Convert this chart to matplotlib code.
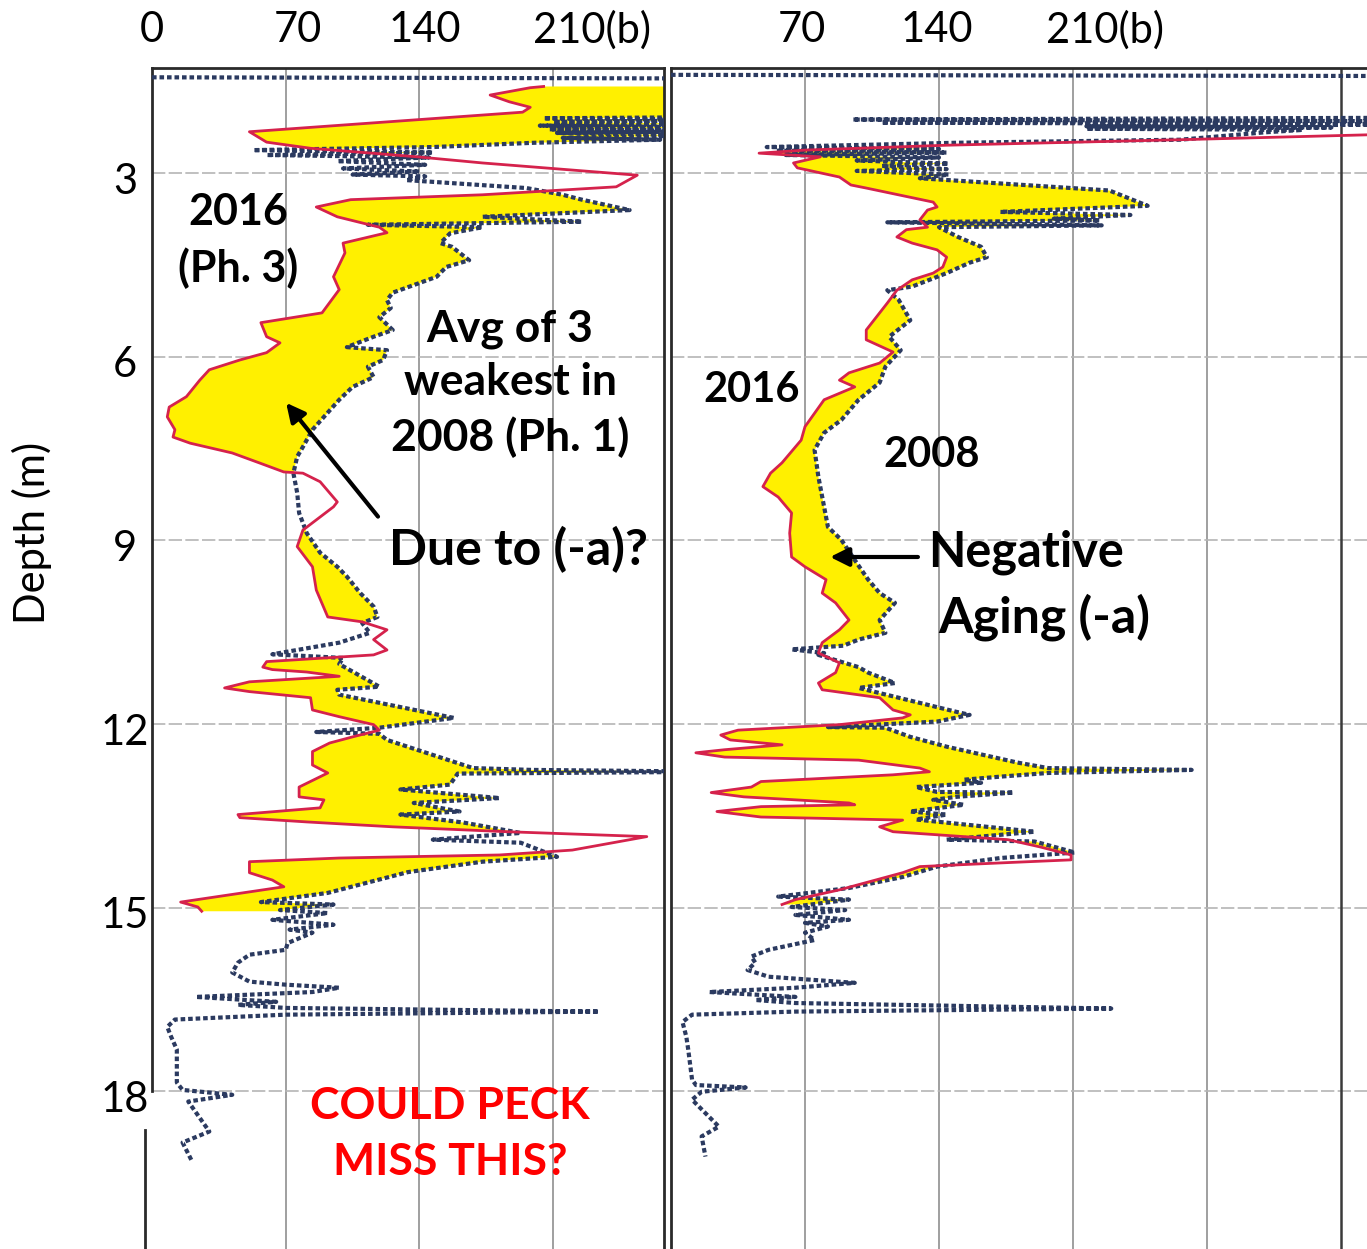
import matplotlib
matplotlib.use("Agg")
import matplotlib.pyplot as plt
from matplotlib.lines import Line2D
from matplotlib.transforms import ScaledTranslation
import numpy as np

plt.rcParams['font.family'] = ['Lato', 'DejaVu Sans']

# CPT soundings: (depth m, cone resistance bar)
left_2016 = [
    (1.58, 205), (1.60, 198), (1.72, 177), (1.83, 187), (1.92, 198), (2.00, 194), (2.32, 51),
    (2.49, 60), (2.59, 83), (2.73, 139), (2.83, 173), (3.03, 254), (3.22, 243), (3.35, 173),
    (3.43, 104), (3.55, 86), (3.71, 97), (3.88, 119), (3.97, 123), (4.14, 100), (4.30, 101),
    (4.69, 95), (4.90, 98), (5.28, 89), (5.44, 57), (5.67, 60), (5.77, 67), (5.93, 60),
    (6.05, 46), (6.21, 30), (6.38, 25), (6.65, 18), (6.82, 9), (6.98, 8), (7.19, 12),
    (7.31, 11), (7.41, 20), (7.57, 42), (7.73, 56), (7.88, 69), (7.90, 79), (8.04, 88),
    (8.37, 97), (8.45, 95), (8.83, 79), (9.10, 76), (9.43, 84), (9.81, 86), (10.25, 92),
    (10.33, 110), (10.46, 123), (10.62, 116), (10.79, 123), (10.87, 116), (10.98, 60),
    (11.07, 58), (11.11, 63), (11.15, 81), (11.22, 98), (11.31, 51), (11.41, 38), (11.47, 51),
    (11.57, 83), (11.77, 84), (11.88, 98), (12.01, 116), (12.10, 119), (12.21, 105),
    (12.31, 93), (12.45, 84), (12.67, 84), (12.80, 92), (13.03, 77), (13.19, 77), (13.24, 90),
    (13.37, 88), (13.48, 45), (13.53, 46), (13.60, 81), (13.68, 126), (13.76, 186),
    (13.84, 259), (14.06, 220), (14.14, 182), (14.19, 98), (14.25, 51), (14.43, 51),
    (14.55, 63), (14.66, 69), (14.91, 15), (14.99, 24), (15.06, 26),
]

left_2008 = [
    (1.43, 0), (1.45, 300), (2.08, 300), (2.10, 205), (2.13, 300), (2.16, 210), (2.19, 300),
    (2.22, 203), (2.25, 300), (2.28, 208), (2.31, 300), (2.34, 212), (2.38, 290), (2.42, 215),
    (2.45, 266), (2.50, 200), (2.57, 147), (2.62, 53), (2.66, 147), (2.70, 60), (2.74, 145),
    (2.80, 97), (2.86, 143), (2.92, 100), (2.97, 140), (3.02, 105), (3.05, 143), (3.11, 133),
    (3.24, 196), (3.35, 215), (3.43, 225), (3.60, 250), (3.71, 173), (3.79, 225), (3.84, 113),
    (3.88, 173), (3.98, 156), (4.14, 151), (4.20, 157), (4.42, 166), (4.53, 154), (4.69, 149),
    (4.95, 126), (5.07, 123), (5.20, 125), (5.35, 119), (5.56, 126), (5.67, 116), (5.84, 102),
    (5.89, 123), (6.05, 121), (6.16, 113), (6.33, 116), (6.49, 105), (6.70, 98), (6.91, 92),
    (7.19, 84), (7.47, 79), (7.63, 76), (7.90, 74), (8.22, 76), (8.55, 77), (8.88, 81),
    (9.20, 88), (9.43, 97), (9.59, 102), (9.86, 109), (10.08, 116), (10.25, 118), (10.35, 110),
    (10.51, 114), (10.67, 98), (10.79, 76), (10.86, 63), (10.92, 100), (11.02, 98),
    (11.39, 119), (11.44, 97), (11.52, 98), (11.90, 158), (12.06, 119), (12.13, 86),
    (12.16, 119), (12.26, 123), (12.72, 168), (12.75, 199), (12.78, 300), (12.81, 160),
    (12.99, 156), (13.07, 130), (13.21, 182), (13.29, 137), (13.43, 161), (13.48, 130),
    (13.61, 163), (13.78, 193), (13.89, 147), (13.94, 193), (14.17, 212), (14.25, 173),
    (14.42, 134), (14.76, 92), (14.91, 57), (14.95, 95), (15.04, 67), (15.09, 92), (15.20, 63),
    (15.28, 95), (15.36, 72), (15.41, 84), (15.58, 71), (15.69, 70), (15.77, 51), (15.90, 45),
    (16.06, 42), (16.21, 51), (16.26, 70), (16.31, 98), (16.38, 84), (16.46, 23), (16.54, 65),
    (16.59, 45), (16.64, 70), (16.70, 234), (16.75, 70), (16.83, 12), (16.95, 8), (17.11, 10),
    (17.32, 13), (17.86, 13), (17.98, 16), (18.06, 42), (18.17, 19), (18.66, 30), (18.84, 16),
    (19.15, 21),
]

right_2016 = [
    (2.25, 420), (2.37, 364), (2.45, 266), (2.54, 144), (2.62, 70), (2.67, 46), (2.73, 78),
    (2.83, 64), (2.91, 66), (3.06, 88), (3.19, 94), (3.24, 102), (3.47, 137), (3.55, 139),
    (3.60, 134), (3.76, 130), (3.88, 134), (3.92, 123), (4.04, 118), (4.14, 126), (4.25, 139),
    (4.37, 144), (4.53, 142), (4.63, 137), (4.74, 126), (4.91, 118), (5.12, 113), (5.28, 109),
    (5.56, 102), (5.72, 102), (5.92, 116), (6.10, 109), (6.26, 93), (6.38, 88), (6.49, 96),
    (6.70, 80), (7.14, 70), (7.36, 68), (7.73, 58), (7.90, 52), (8.12, 48), (8.29, 56),
    (8.55, 63), (8.88, 62), (9.27, 63), (9.43, 70), (9.64, 81), (9.86, 79), (10.02, 86),
    (10.30, 93), (10.46, 88), (10.67, 79), (10.84, 77), (11.00, 88), (11.16, 86), (11.33, 77),
    (11.44, 79), (11.57, 109), (11.77, 116), (11.85, 125), (11.90, 121), (12.01, 88),
    (12.10, 35), (12.18, 26), (12.26, 31), (12.34, 58), (12.42, 28), (12.47, 13), (12.54, 28),
    (12.59, 98), (12.72, 130), (12.78, 135), (12.83, 116), (12.94, 47), (13.03, 42),
    (13.12, 21), (13.19, 38), (13.29, 93), (13.32, 96), (13.35, 47), (13.43, 24), (13.52, 47),
    (13.57, 121), (13.68, 109), (13.76, 116), (13.89, 176), (14.01, 193), (14.14, 209),
    (14.22, 209), (14.27, 172), (14.33, 130), (14.43, 121), (14.71, 88), (14.87, 65),
    (14.95, 58),
]

right_2008 = [
    (1.39, 0), (1.41, 400), (2.09, 400), (2.12, 95), (2.15, 400), (2.17, 110), (2.20, 400),
    (2.23, 217), (2.25, 345), (2.27, 217), (2.29, 330), (2.33, 310), (2.45, 266), (2.50, 149),
    (2.57, 50), (2.60, 140), (2.63, 55), (2.66, 144), (2.70, 60), (2.74, 140), (2.79, 97),
    (2.84, 145), (2.88, 110), (2.93, 144), (2.96, 97), (3.02, 145), (3.08, 130), (3.28, 229),
    (3.53, 249), (3.63, 172), (3.68, 240), (3.74, 200), (3.77, 224), (3.80, 113), (3.85, 225),
    (3.88, 140), (4.04, 150), (4.20, 162), (4.37, 165), (4.46, 156), (4.63, 144), (4.85, 126),
    (4.91, 113), (5.07, 119), (5.40, 125), (5.67, 114), (5.89, 120), (6.16, 112), (6.42, 109),
    (6.70, 98), (7.03, 89), (7.24, 80), (7.52, 75), (7.96, 77), (8.45, 80), (8.78, 82),
    (8.99, 89), (9.32, 96), (9.64, 103), (9.86, 109), (10.02, 117), (10.30, 109), (10.51, 112),
    (10.62, 98), (10.72, 90), (10.78, 63), (10.84, 80), (10.87, 77), (11.07, 98), (11.16, 103),
    (11.33, 117), (11.41, 98), (11.80, 149), (11.85, 156), (11.96, 139), (12.05, 82),
    (12.06, 112), (12.21, 125), (12.37, 144), (12.63, 181), (12.72, 197), (12.75, 272),
    (12.80, 197), (12.86, 172), (12.91, 153), (12.96, 162), (13.03, 128), (13.11, 139),
    (13.12, 179), (13.19, 149), (13.24, 137), (13.32, 153), (13.43, 125), (13.48, 144),
    (13.56, 128), (13.76, 190), (13.89, 144), (13.92, 190), (14.10, 211), (14.19, 172),
    (14.33, 139), (14.50, 121), (14.68, 93), (14.82, 56), (14.87, 93), (14.99, 63), (15.04, 91),
    (15.12, 65), (15.20, 93), (15.25, 70), (15.31, 82), (15.41, 70), (15.53, 75), (15.69, 51),
    (15.80, 42), (15.90, 44), (16.02, 40), (16.13, 51), (16.23, 96), (16.31, 65), (16.38, 20),
    (16.46, 65), (16.51, 44), (16.56, 65), (16.65, 230), (16.70, 65), (16.75, 11), (16.87, 6),
    (17.11, 8), (17.32, 9), (17.81, 11), (17.90, 13), (17.94, 39), (18.01, 16), (18.14, 11),
    (18.58, 25), (18.74, 16), (19.07, 18),
]

left_ticks = [0, 70, 140, 210]
left_labels = ['0', '70', '140', '210(b)']
left_label_shift = [0, 12, 5, 39]          # px, labels sit a bit right of the grid
right_ticks = [70, 140, 210]
right_labels = ['70', '140', '210(b)']
right_label_shift = [-3, -2, 32]
depth_ticks = [3, 6, 9, 12, 15, 18]
left_grid = [70, 140, 210]
right_grid = [70, 140, 210, 280]

RED = '#d5224c'
NAVY = '#2b3a60'
YELLOW = '#fff000'
W, H = 1367, 1249

fig = plt.figure(figsize=(W / 100, H / 100), dpi=100)
top = 1 - 68 / H
ax_l = fig.add_axes([152 / W, 0, 512 / W, top])
ax_r = fig.add_axes([671 / W, 0, 696 / W, top])
ymax, ymin = 20.58, 1.278


def draw_profile(ax, p16, p08):
    d16, q16 = np.array(p16, dtype=float).T
    d08, q08 = np.array(p08, dtype=float).T
    z = np.linspace(d16[0], d16[-1], 6000)
    a = np.interp(z, d16, q16)
    b = np.interp(z, d08, q08)
    ax.fill_betweenx(z, a, b, where=a < b, interpolate=True, color=YELLOW, lw=0, zorder=2)
    ax.plot(q08, d08, color=NAVY, lw=3, ls=(0, (1.1, 0.7)), dash_capstyle='butt', zorder=3)
    ax.plot(q16, d16, color=RED, lw=2, zorder=4)


for ax, xmax, grid in [(ax_l, 268, left_grid), (ax_r, 363.6, right_grid)]:
    ax.set_xlim(0, xmax)
    ax.set_ylim(ymax, ymin)
    for g in grid:
        ax.axvline(g, color='#8f8f8f', lw=1.2, zorder=1)
    for d in depth_ticks:
        ax.axhline(d, color='#b5b5b5', lw=1.2, ls=(0, (8, 2)), zorder=1)
    ax.spines['bottom'].set_visible(False)
    for s in ['left', 'top', 'right']:
        ax.spines[s].set_color('#2a2a2a')
        ax.spines[s].set_linewidth(2)
    ax.set_xticks([])
    ax.tick_params(axis='y', length=0)

ax_r.spines['right'].set_visible(False)
ax_r.axvline(350, color='#3a3a3a', lw=1.8, zorder=1)
ax_r.set_yticks([])

ax_l.set_yticks(depth_ticks, [str(d) for d in depth_ticks])
ax_l.tick_params(axis='y', pad=19.4, labelsize=30)
for lab in ax_l.get_yticklabels():
    lab.set_horizontalalignment('center')
    lab.set_transform(lab.get_transform() + ScaledTranslation(0, -0.05, fig.dpi_scale_trans))
ax_l.spines['left'].set_bounds(18.0, ymin)
fig.add_artist(Line2D([145 / W, 145 / W], [0, 1 - 1130 / H], color='#2a2a2a', lw=2))

for ax, ticks, labels, shifts in [(ax_l, left_ticks, left_labels, left_label_shift),
                                  (ax_r, right_ticks, right_labels, right_label_shift)]:
    for t, lab, dx in zip(ticks, labels, shifts):
        ax.annotate(lab, (t, 1), xycoords=ax.get_xaxis_transform(), xytext=(dx, 38),
                    textcoords='offset pixels', ha='center', va='center', fontsize=30,
                    annotation_clip=False)

draw_profile(ax_l, left_2016, left_2008)
draw_profile(ax_r, right_2016, right_2008)

fig.text(32 / W, 1 - 533 / H, 'Depth (m)', rotation=90, fontsize=30, ha='center', va='center')

bold = dict(fontweight='bold', ha='center', va='center', zorder=6)
ax_l.text(45, 4.10, '2016\n(Ph. 3)', fontsize=31, linespacing=1.46, **bold)
ax_l.text(187.4, 6.43, 'Avg of 3\nweakest in\n2008 (Ph. 1)', fontsize=32, linespacing=1.40, **bold)
ax_l.text(192, 9.15, 'Due to (-a)?', fontsize=36, **bold)
ax_l.text(156, 18.70, 'COULD PECK\nMISS THIS?', fontsize=32, color='#ff0000', linespacing=1.51, **bold)
ax_r.text(42.3, 6.54, '2016', fontsize=30, **bold)
ax_r.text(136.4, 7.60, '2008', fontsize=30, **bold)
ax_r.text(134.3, 9.19, 'Negative', fontsize=35, fontweight='bold', ha='left', va='center')
ax_r.text(139.5, 10.25, 'Aging (-a)', fontsize=36, fontweight='bold', ha='left', va='center')

arrow = dict(arrowstyle='-|>', color='black', lw=3, mutation_scale=28, shrinkA=0, shrinkB=0)
ax_l.annotate('', xy=(70.2, 6.75), xytext=(118.3, 8.61), arrowprops=arrow, zorder=6)
ax_r.annotate('', xy=(83.1, 9.27), xytext=(129.0, 9.27), arrowprops=arrow, zorder=6)

fig.savefig('out.png', dpi=100, facecolor='white')
